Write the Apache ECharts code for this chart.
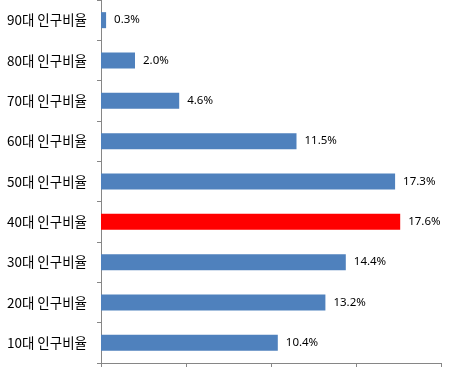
<!DOCTYPE html>
<html>
<head>
<meta charset="utf-8">
<script src="https://cdn.jsdelivr.net/npm/echarts@6/dist/echarts.min.js"></script>
<style>html,body{margin:0;padding:0;background:#fff;}#c{width:463px;height:379px;}</style>
</head>
<body>
<div id="c"></div>
<script>
const categories = ['10대 인구비율','20대 인구비율','30대 인구비율','40대 인구비율','50대 인구비율','60대 인구비율','70대 인구비율','80대 인구비율','90대 인구비율'];
const values = [10.4, 13.2, 14.4, 17.6, 17.3, 11.5, 4.6, 2.0, 0.3];
const highlighted = '40대 인구비율';
const valueTicks = [0, 5, 10, 15, 20];

const chart = echarts.init(document.getElementById('c'), null, {renderer: 'canvas'});
chart.setOption({
  animation: false,
  backgroundColor: '#ffffff',
  grid: {left: 101, right: 22, top: -3, bottom: 16, containLabel: false},
  xAxis: {
    type: 'value',
    min: valueTicks[0],
    max: valueTicks[valueTicks.length - 1],
    interval: valueTicks[1] - valueTicks[0],
    axisLine: {show: true, lineStyle: {color: '#868686', width: 1}},
    axisTick: {show: true, length: 4, lineStyle: {color: '#868686'}},
    axisLabel: {show: false},
    splitLine: {show: false}
  },
  yAxis: {
    type: 'category',
    data: categories,
    axisLine: {show: true, lineStyle: {color: '#868686', width: 1}},
    axisTick: {show: true, length: 4, alignWithLabel: false, lineStyle: {color: '#868686'}},
    axisLabel: {color: '#000', fontSize: 13.5, fontFamily: '"Noto Sans CJK KR", "Noto Sans", sans-serif', margin: 14}
  },
  series: [{
    type: 'bar',
    barWidth: 16,
    data: values.map((v, i) => ({
      value: v,
      itemStyle: {color: categories[i] === highlighted ? '#FF0000' : '#4F81BD'}
    })),
    label: {
      show: true,
      position: 'right',
      distance: 8,
      color: '#000',
      fontSize: 11.5,
      fontFamily: '"Noto Sans", sans-serif',
      formatter: p => p.value.toFixed(1) + '%'
    }
  }]
});
</script>
</body>
</html>
